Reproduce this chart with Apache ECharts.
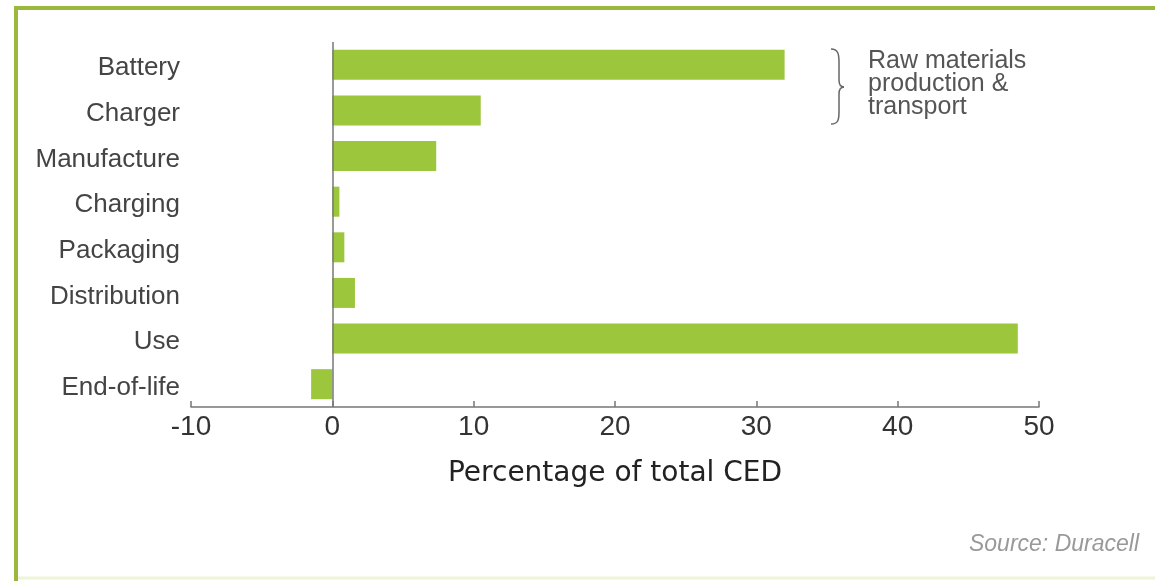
<!DOCTYPE html>
<html><head><meta charset="utf-8">
<script src="https://cdn.jsdelivr.net/npm/echarts@6/dist/echarts.min.js"></script>
<style>html,body{margin:0;padding:0;background:#fff}#c{width:1155px;height:581px}</style>
</head><body><div id="c"></div>
<script>
const categories = ['Battery','Charger','Manufacture','Charging','Packaging','Distribution','Use','End-of-life'];
const values = [32.0, 10.5, 7.35, 0.5, 0.85, 1.6, 48.5, -1.5];
const xTicks = [-10, 0, 10, 20, 30, 40, 50];
const axisTitle = 'Percentage of total CED';
const noteLines = ['Raw materials', 'production &', 'transport'];
const sourceText = 'Source: Duracell';

const braceStyle = {stroke: '#666', lineWidth: 1.5, fill: null};
const chart = echarts.init(document.getElementById('c'));
chart.setOption({
  animation: false,
  grid: {left: 191, right: 116, top: 42, bottom: 174, containLabel: false},
  xAxis: {
    type: 'value', min: xTicks[0], max: xTicks[xTicks.length-1], interval: 10,
    splitLine: {show: false},
    axisLine: {show: true, onZero: false, lineStyle: {color: '#777', width: 1.5}},
    axisTick: {show: true, inside: true, length: 6, lineStyle: {color: '#777', width: 1.5}},
    axisLabel: {color: '#333', fontSize: 28, fontFamily: 'Liberation Sans, Arial, sans-serif', margin: 6},
    name: axisTitle, nameLocation: 'middle', nameGap: 53,
    nameTextStyle: {color: '#222', fontSize: 28, fontFamily: 'DejaVu Sans, Verdana, sans-serif'}
  },
  yAxis: {
    type: 'category', data: categories, inverse: true,
    axisLine: {show: false}, axisTick: {show: false},
    axisLabel: {
      margin: 11,
      formatter: v => '{c|' + v + '}',
      rich: {c: {color: '#444', fontSize: 26, fontFamily: 'Liberation Sans, Arial, sans-serif', padding: [7, 0, 0, 0]}}
    }
  },
  series: [{
    type: 'bar', data: values, barWidth: 30,
    itemStyle: {color: '#9cc63b'},
    markLine: {
      silent: true, symbol: 'none', label: {show: false},
      lineStyle: {color: '#777', width: 1.5, type: 'solid'},
      data: [{xAxis: 0}]
    }
  }],
  graphic: [
    {type: 'line', shape: {x1: 14, y1: 8, x2: 1155, y2: 8}, style: {stroke: '#9ab83e', lineWidth: 4}},
    {type: 'line', shape: {x1: 16, y1: 6, x2: 16, y2: 581}, style: {stroke: '#9ab83e', lineWidth: 4}},
    {type: 'line', shape: {x1: 18, y1: 578, x2: 1155, y2: 578}, style: {stroke: '#eef4d6', lineWidth: 3}},
    {type: 'bezierCurve', shape: {x1: 831, y1: 49, cpx1: 838, cpy1: 49, cpx2: 839, cpy2: 54, x2: 839, y2: 62}, style: braceStyle},
    {type: 'line', shape: {x1: 839, y1: 62, x2: 839, y2: 80}, style: braceStyle},
    {type: 'bezierCurve', shape: {x1: 839, y1: 80, cpx1: 839, cpy1: 85, cpx2: 841, cpy2: 87, x2: 844, y2: 87}, style: braceStyle},
    {type: 'bezierCurve', shape: {x1: 844, y1: 87, cpx1: 841, cpy1: 87, cpx2: 839, cpy2: 89, x2: 839, y2: 94}, style: braceStyle},
    {type: 'line', shape: {x1: 839, y1: 94, x2: 839, y2: 112}, style: braceStyle},
    {type: 'bezierCurve', shape: {x1: 839, y1: 112, cpx1: 839, cpy1: 120, cpx2: 838, cpy2: 124, x2: 831, y2: 124}, style: braceStyle},
    {type: 'text', left: 868, top: 49, style: {text: noteLines.join('\n'), fill: '#555', fontSize: 25, lineHeight: 23, fontFamily: 'Liberation Sans, Arial, sans-serif'}},
    {type: 'text', right: 16, top: 533, style: {text: sourceText, fill: '#999', fontSize: 23, fontStyle: 'italic', fontFamily: 'Liberation Sans, Arial, sans-serif'}}
  ]
});
</script></body></html>
